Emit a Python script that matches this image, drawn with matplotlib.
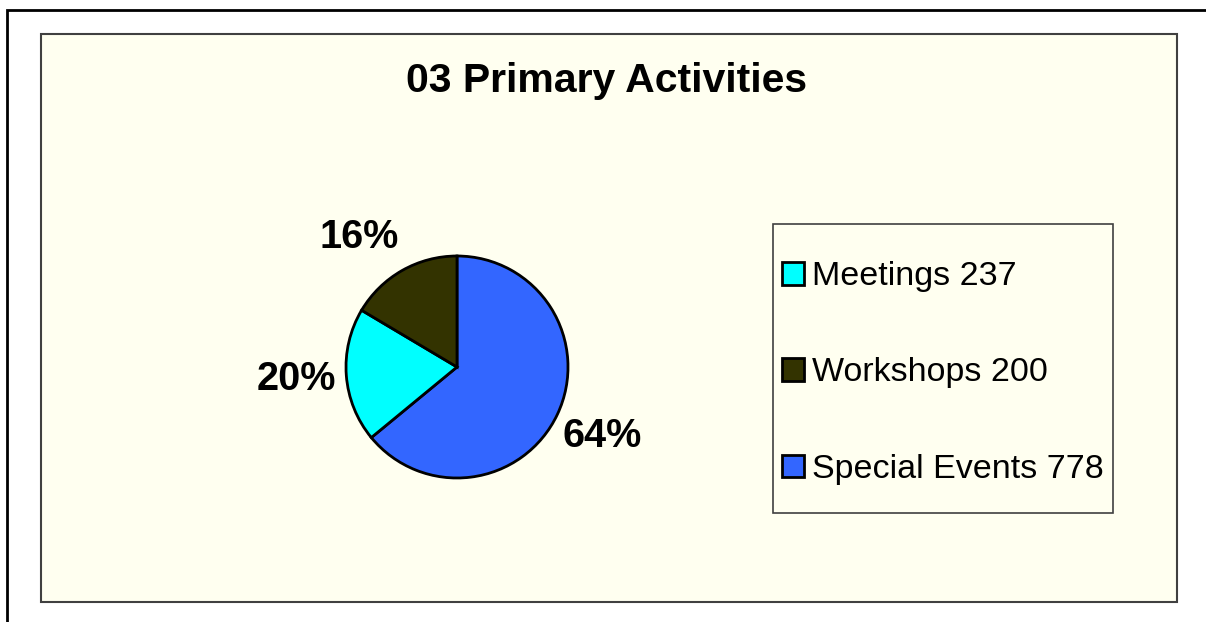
import matplotlib as mpl
mpl.use('agg')
import matplotlib.pyplot as plt
import matplotlib.transforms as mtransforms
from matplotlib.patches import Rectangle

# data (legend order)
categories = ["Meetings", "Workshops", "Special Events"]
counts = [237, 200, 778]
colors = ["#00FFFF", "#333300", "#3366FF"]

# pie is drawn clockwise from 12 o'clock: Special Events, Meetings, Workshops
pie_order = [2, 0, 1]

plt.rcParams['font.family'] = ['Liberation Sans', 'DejaVu Sans']

W, H = 1206, 622
fig = plt.figure(figsize=(W / 100, H / 100), dpi=100)
fig.patch.set_facecolor("white")

def fx(px):
    return px / W

def fy(py):
    return 1 - py / H

bg = "#FFFFF0"

# outer border (runs off the right and bottom edges)
fig.add_artist(Rectangle((fx(7), -0.1), 1.2, fy(10) + 0.1, transform=fig.transFigure,
                         facecolor="white", edgecolor="black", linewidth=2, zorder=0))
# chart area
fig.add_artist(Rectangle((fx(41), fy(602)), fx(1177) - fx(41), fy(34) - fy(602),
                         transform=fig.transFigure, facecolor=bg, edgecolor="#404040",
                         linewidth=1.5, zorder=0.5))

fig.text(fx(606), fy(81), "03 Primary Activities", ha="center", va="center",
         fontsize=29.5, fontweight="bold", zorder=3)

# pie axes: centre (457, 367), radius 111 px
cx, cy, r = 457, 367, 111
ax = fig.add_axes([fx(cx - r), fy(cy + r), fx(2 * r), fy(cy - r) - fy(cy + r)])
ax.set_zorder(3)
ax.patch.set_visible(False)

vals = [counts[i] for i in pie_order]
cols = [colors[i] for i in pie_order]
wedges, texts, autotexts = ax.pie(vals, colors=cols, startangle=90, counterclock=False,
                                  autopct='%1.0f%%', pctdistance=1.45, radius=1,
                                  wedgeprops=dict(edgecolor="black", linewidth=2),
                                  textprops=dict(fontsize=28.5, fontweight="bold"))
# pie() sets +-1.25 limits; make the pie fill the axes
ax.set_xlim(-1, 1)
ax.set_ylim(-1, 1)
ax.axis("off")
for w in wedges:
    w.set_clip_on(False)
for t in autotexts:
    t.set_clip_on(False)

# small nudge for the workshops label, as the original places it further left
ws = autotexts[pie_order.index(1)]
ws.set_transform(ws.get_transform() +
                 mtransforms.ScaledTranslation(-18 / 100, -10 / 100, fig.dpi_scale_trans))

# legend box
fig.add_artist(Rectangle((fx(773), fy(513)), fx(1113) - fx(773), fy(224) - fy(513),
                         transform=fig.transFigure, facecolor=bg, edgecolor="#404040",
                         linewidth=1.2, zorder=1))
handles = [wedges[pie_order.index(i)] for i in range(len(categories))]
labels = [f"{c} {n}" for c, n in zip(categories, counts)]
leg = fig.legend(handles, labels, loc="center left", bbox_to_anchor=(fx(782), fy(373)),
                 frameon=False, fontsize=24.5, handlelength=0.65, handleheight=0.65,
                 handletextpad=0.24, labelspacing=1.92, borderpad=0, borderaxespad=0)
leg.set_zorder(4)

plt.savefig("out.png", dpi=100)
